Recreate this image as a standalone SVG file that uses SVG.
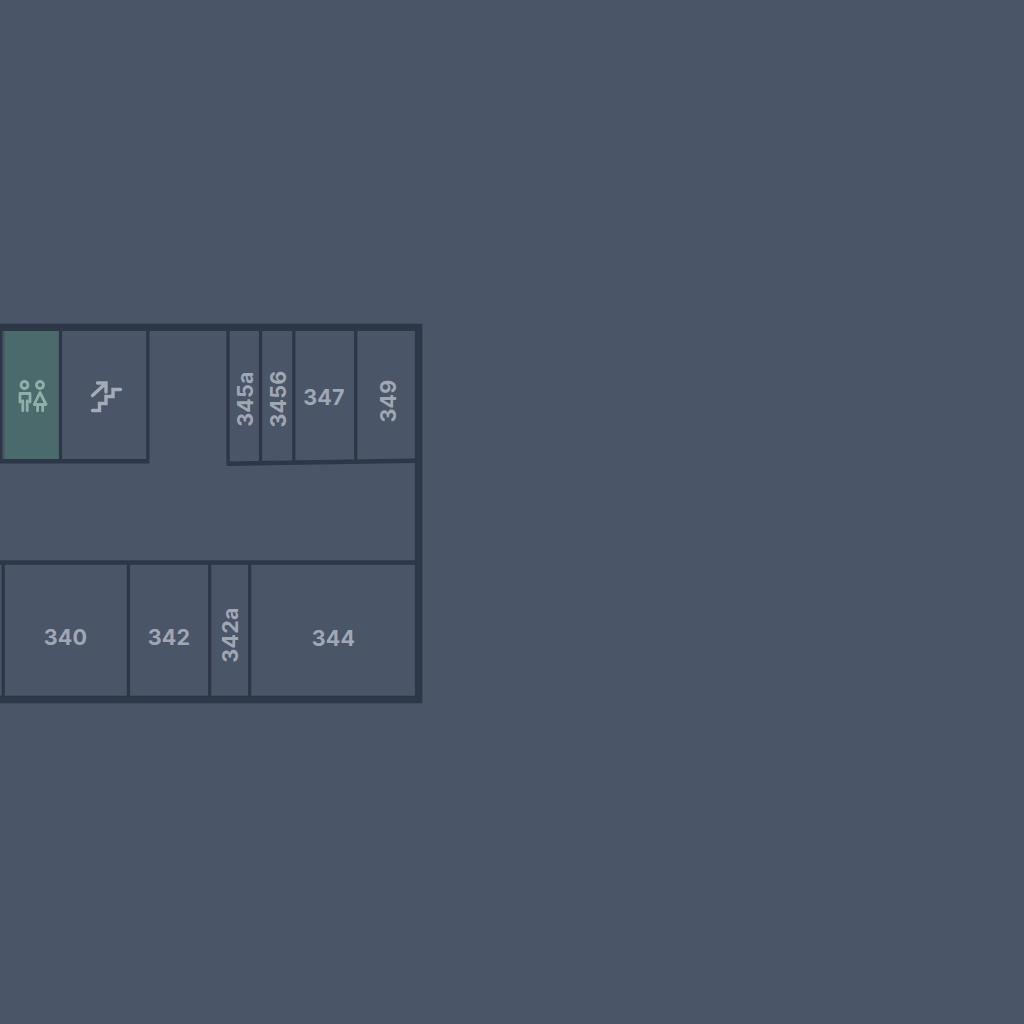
<svg xmlns="http://www.w3.org/2000/svg" width="1024" height="1024" viewBox="0 0 1024 1024">
<style>
.w{stroke:#2d3748;fill:none;stroke-linecap:butt}
.o{stroke-width:7.400}
.i{stroke-width:3.300}
.h{stroke-width:4.500}
.t{font-family:Inter,"Liberation Sans",sans-serif;font-size:21.500px;font-weight:700;fill:#a0a7b4;text-anchor:middle;dominant-baseline:central;letter-spacing:.2px}
.rr{fill:none;stroke:#8fb0aa;stroke-width:2.800;stroke-linecap:round;stroke-linejoin:round}
.st{fill:none;stroke:#a5abb6;stroke-width:3.400;stroke-linecap:round;stroke-linejoin:miter}
</style>
<rect width="1024" height="1024" fill="#4a5568"/>
<g id="restroom"><rect x="4.700" y="330" width="54.500" height="129.500" fill="#4a6a6c"/>
<circle class="rr" cx="24.500" cy="385" r="3.500"/><circle class="rr" cx="40" cy="385" r="3.500"/>
<path class="rr" d="M20 402V393.500H30V402M22.800 401V410.800M27.200 401V410.800"/>
<path class="rr" d="M40 392.500L34.200 404.500H46L40 392.500ZM37.600 404.500V410.800M42.700 404.500V410.800"/>
</g>
<g id="stairs">
<path class="st" d="M92.500 410.500H99.500V403.500H106V396.500H113V389.500H120.500"/>
<path class="st" d="M92.500 395.500L105.500 383.500M97.500 383H106V392"/>
</g>
<g id="connectors">
<path class="w o" d="M0 327.400H418.600V699.500H0"/>
<path class="w h" d="M0 562.600H415"/>
<path class="w h" d="M0 461.300H149"/>
<path class="w h" d="M227 463.700L415 460.700"/>
<path class="w i" d="M.8 330V460M60.500 330V460M147.800 330V463M228 330V465M260.500 330V463M293.800 330V462M355.700 330V461"/>
<path class="w i" d="M3.200 564V697M128.400 564V697M209.700 564V697M249.700 564V697"/>
</g>
<g id="room-340"><text class="t" x="65.500" y="637">340</text></g>
<g id="room-342"><text class="t" x="169" y="637">342</text></g>
<g id="room-342a"><text class="t" transform="translate(229.500 635) rotate(-90)">342a</text></g>
<g id="room-344"><text class="t" x="333.500" y="637.500">344</text></g>
<g id="room-345a"><text class="t" transform="translate(244.500 399) rotate(-90)">345a</text></g>
<g id="room-3456"><text class="t" transform="translate(277.500 399) rotate(-90)">3456</text></g>
<g id="room-347"><text class="t" x="324" y="396.500">347</text></g>
<g id="room-349"><text class="t" transform="translate(387.500 401) rotate(-90)">349</text></g>
</svg>
